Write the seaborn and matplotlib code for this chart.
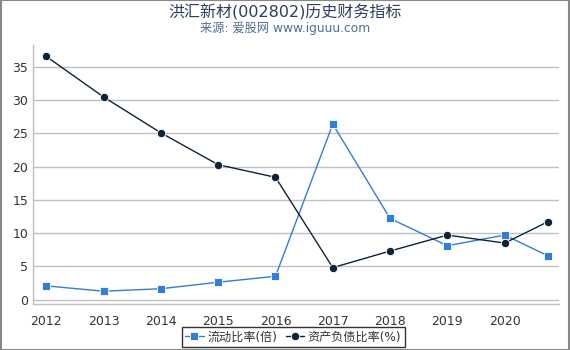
import matplotlib
matplotlib.use("Agg")
import matplotlib.pyplot as plt
import seaborn as sns
import pandas as pd

years = [2012, 2013, 2014, 2015, 2016, 2017, 2018, 2019, 2020, 2020.75]
tick_years = [2012, 2013, 2014, 2015, 2016, 2017, 2018, 2019, 2020]
current_ratio = [2.05, 1.25, 1.62, 2.6, 3.5, 26.4, 12.2, 8.1, 9.7, 6.6]
debt_ratio = [36.6, 30.5, 25.1, 20.3, 18.4, 4.8, 7.3, 9.7, 8.5, 11.7]
labels = ["流动比率(倍)", "资产负债比率(%)"]

sns.set_theme(style="white")
plt.rcParams['font.family'] = ['DejaVu Sans', 'Noto Sans CJK SC']

df = pd.DataFrame({"year": years, labels[0]: current_ratio, labels[1]: debt_ratio})
long = df.melt(id_vars="year", var_name="series", value_name="value")

fig = plt.figure(figsize=(5.7, 3.5), dpi=100)
ax = fig.add_axes([0.058, 0.131, 0.922, 0.74])

sns.lineplot(data=long, x="year", y="value", hue="series", style="series",
             palette=["#2f7ed8", "#0d233a"], markers=["s", "o"], dashes=False,
             markersize=6, linewidth=1, markeredgewidth=0.6, markeredgecolor="white",
             ax=ax, legend=True)

ax.set_xlim(2011.77, 2020.94)
ax.set_ylim(-0.7, 38.3)
ax.set_xticks(tick_years)
ax.set_xticklabels([str(y) for y in tick_years])
ax.set_yticks([0, 5, 10, 15, 20, 25, 30, 35])
ax.grid(axis="y", color="#c0c0c0", linewidth=1)
ax.set_axisbelow(True)
ax.set_xlabel("")
ax.set_ylabel("")
for s in ["top", "right"]:
    ax.spines[s].set_visible(False)
for s in ["left", "bottom"]:
    ax.spines[s].set_color("#c0c0c0")
    ax.spines[s].set_linewidth(1)
ax.tick_params(axis="both", labelsize=9, colors="#333333", length=4, color="#c0c0c0")
ax.tick_params(axis="y", length=0)

leg = ax.legend(loc="upper center", bbox_to_anchor=(0.495, -0.065), ncol=2, frameon=True,
                fontsize=8.7, handlelength=1.5, handletextpad=0.3, columnspacing=0.7,
                borderpad=0.3, fancybox=False)
leg.get_frame().set_edgecolor("#000000")
leg.get_frame().set_linewidth(1)
for t in leg.get_texts():
    t.set_color("#333333")

fig.text(0.5, 0.965, "洪汇新材(002802)历史财务指标", ha="center", va="center", fontsize=11.5, color="#2b3f5c")
fig.text(0.5, 0.918, "来源: 爱股网 www.iguuu.com", ha="center", va="center", fontsize=8.8, color="#4d6e9a")

border = plt.Rectangle((0.001, 0.001), 0.998, 0.998, transform=fig.transFigure, fill=False,
                       edgecolor="#888888", linewidth=1.5)
fig.patches.append(border)

fig.savefig("out.png", dpi=100)
